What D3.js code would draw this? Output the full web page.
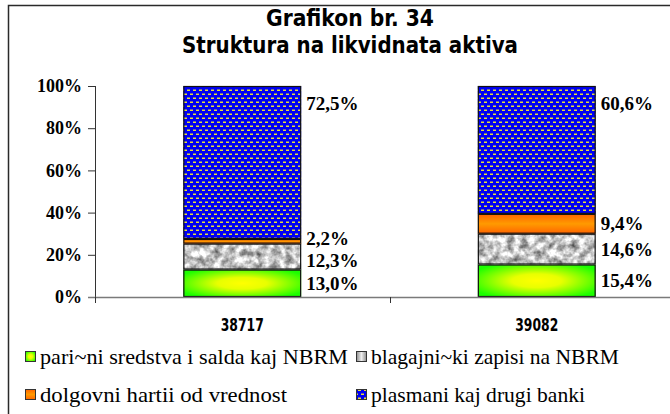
<!DOCTYPE html>
<html>
<head>
<meta charset="utf-8">
<script src="https://cdn.jsdelivr.net/npm/d3@7/dist/d3.min.js"></script>
<style>
  html, body { margin: 0; padding: 0; background: #fff; }
  svg { display: block; }
</style>
</head>
<body>
<script>
// Structure of liquid assets, shares in percent per period
const categories = ["38717", "39082"];
const seriesNames = [
  "pari~ni sredstva i salda kaj NBRM",
  "blagajni~ki zapisi na NBRM",
  "dolgovni hartii od vrednost",
  "plasmani kaj drugi banki"
];
const cashAndNbrm = [13.0, 15.4];
const treasuryBills = [12.3, 14.6];
const debtSecurities = [2.2, 9.4];
const interbankPlacements = [72.5, 60.6];
const yTicks = [0, 20, 40, 60, 80, 100];
const titleLines = ["Grafikon br. 34", "Struktura na likvidnata aktiva"];

const W = 670, H = 414;
const margin = { left: 95, top: 86, plotRight: 684, bottom: 297 };

const keys = ["cash", "bills", "debt", "place"];
const table = categories.map((c, i) => ({
  cat: c,
  cash: cashAndNbrm[i],
  bills: treasuryBills[i],
  debt: debtSecurities[i],
  place: interbankPlacements[i]
}));
const stacked = d3.stack().keys(keys)(table);

const svg = d3.select("body").append("svg")
  .attr("width", W).attr("height", H);

const defs = svg.append("defs");

// green fill: yellow glow in the middle
const gGreen = defs.append("radialGradient").attr("id", "fillGreen")
  .attr("cx", "50%").attr("cy", "50%").attr("r", "60%");
gGreen.append("stop").attr("offset", "0%").attr("stop-color", "#ffff00");
gGreen.append("stop").attr("offset", "35%").attr("stop-color", "#e8ff00");
gGreen.append("stop").attr("offset", "100%").attr("stop-color", "#1cff00");

// orange fill: lighter band through the middle
const gOrange = defs.append("linearGradient").attr("id", "fillOrange")
  .attr("x1", 0).attr("y1", 0).attr("x2", 0).attr("y2", 1);
gOrange.append("stop").attr("offset", "0%").attr("stop-color", "#ff6400");
gOrange.append("stop").attr("offset", "50%").attr("stop-color", "#ff9a00");
gOrange.append("stop").attr("offset", "100%").attr("stop-color", "#ff6400");

// gray fill for legend swatch
const gGray = defs.append("linearGradient").attr("id", "fillGray")
  .attr("x1", 0).attr("y1", 0).attr("x2", 1).attr("y2", 0);
gGray.append("stop").attr("offset", "0%").attr("stop-color", "#8c8c8c");
gGray.append("stop").attr("offset", "50%").attr("stop-color", "#eeeeee");
gGray.append("stop").attr("offset", "100%").attr("stop-color", "#8c8c8c");

// granite-like texture
const fGran = defs.append("filter").attr("id", "granite")
  .attr("x", 0).attr("y", 0).attr("width", 1).attr("height", 1)
  .attr("color-interpolation-filters", "sRGB");
fGran.append("feTurbulence").attr("type", "fractalNoise")
  .attr("baseFrequency", 0.14).attr("numOctaves", 3).attr("seed", 7).attr("result", "n");
fGran.append("feColorMatrix").attr("in", "n").attr("type", "matrix")
  .attr("values", "1.15 0 0 0 0.2  1.15 0 0 0 0.2  1.15 0 0 0 0.2  0 0 0 0 1")
  .attr("result", "g");
fGran.append("feComposite").attr("in", "g").attr("in2", "SourceGraphic").attr("operator", "in");

// blue with staggered yellow dashes
const pBlue = defs.append("pattern").attr("id", "fillBlue")
  .attr("patternUnits", "userSpaceOnUse").attr("width", 6).attr("height", 8);
pBlue.append("rect").attr("width", 6).attr("height", 8).attr("fill", "#0000f4");
pBlue.append("rect").attr("x", 1).attr("y", 1.5).attr("width", 3).attr("height", 1.5).attr("fill", "#e6de3a");
pBlue.append("rect").attr("x", 4).attr("y", 5.5).attr("width", 3).attr("height", 1.5).attr("fill", "#e6de3a");
pBlue.append("rect").attr("x", -2).attr("y", 5.5).attr("width", 3).attr("height", 1.5).attr("fill", "#e6de3a");

const fills = {
  cash: { fill: "url(#fillGreen)" },
  bills: { fill: "#c8c8c8", filter: "url(#granite)" },
  debt: { fill: "url(#fillOrange)" },
  place: { fill: "url(#fillBlue)" }
};
const legendFills = {
  cash: "url(#fillGreen)",
  bills: "url(#fillGray)",
  debt: "url(#fillOrange)",
  place: "url(#fillBlue)"
};

// chart frame
svg.append("rect")
  .attr("x", 8.5).attr("y", 5.5).attr("width", 720).attr("height", 460)
  .attr("fill", "#fff").attr("stroke", "#2a2a2a").attr("stroke-width", 1.5);

// title
const titleFont = "'DejaVu Sans Condensed', 'Liberation Sans Narrow', 'Arial Narrow', sans-serif";
const serifFont = "'Liberation Serif', 'Times New Roman', 'DejaVu Serif', serif";
svg.selectAll("text.title").data(titleLines).join("text")
  .attr("class", "title")
  .attr("x", 350).attr("y", (d, i) => 26 + i * 27)
  .attr("text-anchor", "middle")
  .attr("font-family", titleFont)
  .attr("font-stretch", "condensed")
  .attr("font-weight", "bold")
  .attr("font-size", 23)
  .attr("textLength", (d, i) => i === 0 ? 168 : 336)
  .attr("lengthAdjust", "spacingAndGlyphs")
  .attr("fill", "#000")
  .text(d => d);

// scales
const x = d3.scaleBand().domain(categories)
  .range([margin.left, margin.plotRight])
  .paddingInner(0.6).paddingOuter(0.3);
const y = d3.scaleLinear().domain([0, 100]).range([margin.bottom, margin.top]);

// y axis
const yAxis = svg.append("g")
  .attr("transform", `translate(${margin.left},0)`)
  .call(d3.axisLeft(y).tickValues(yTicks).tickSize(7).tickPadding(6)
    .tickFormat(d => d + "%"));
yAxis.select(".domain").attr("stroke", "#333").attr("stroke-width", 1)
  .attr("d", `M0.5,${y(100)}V${margin.bottom + 6}`);
yAxis.selectAll(".tick line").attr("stroke", "#333");
yAxis.selectAll(".tick text")
  .attr("font-family", serifFont)
  .attr("font-weight", "bold").attr("font-size", 18).attr("fill", "#000");

// bars
const layer = svg.append("g");
stacked.forEach(s => {
  const st = fills[s.key];
  s.forEach(d => {
    const x0 = x(d.data.cat), bw = x.bandwidth();
    const r = layer.append("rect")
      .attr("x", x0).attr("y", y(d[1]))
      .attr("width", bw).attr("height", y(d[0]) - y(d[1]))
      .attr("fill", st.fill);
    if (st.filter) r.attr("filter", st.filter);
    layer.append("rect")
      .attr("x", x0 + 0.5).attr("y", y(d[1]) + 0.5)
      .attr("width", bw - 1).attr("height", y(d[0]) - y(d[1]) - 1)
      .attr("fill", "none").attr("stroke", "#111").attr("stroke-width", 1.2);
  });
});

// category axis
const xAxisY = margin.bottom;
svg.append("line")
  .attr("x1", margin.left - 7).attr("x2", W + 20)
  .attr("y1", xAxisY + 0.5).attr("y2", xAxisY + 0.5)
  .attr("stroke", "#7a7a7a").attr("stroke-width", 1.6);
const bounds = [margin.left, ...categories.map(c => x(c) + x.bandwidth() + x.step() * 0.3)];
svg.selectAll("line.ctick").data(bounds).join("line")
  .attr("class", "ctick")
  .attr("x1", d => Math.round(d) + 0.5).attr("x2", d => Math.round(d) + 0.5)
  .attr("y1", xAxisY).attr("y2", xAxisY + 6)
  .attr("stroke", "#333");
svg.selectAll("text.cat").data(categories).join("text")
  .attr("class", "cat")
  .attr("x", d => x(d) + x.bandwidth() / 2).attr("y", 331)
  .attr("text-anchor", "middle")
  .attr("font-family", titleFont)
  .attr("font-stretch", "condensed")
  .attr("font-weight", "bold").attr("font-size", 18)
  .attr("textLength", 43)
  .attr("lengthAdjust", "spacingAndGlyphs")
  .text(d => d);

// value labels to the right of each bar
const fmt = v => d3.format(".1f")(v).replace(".", ",") + "%";
categories.forEach((c, ci) => {
  const labs = stacked.map(s => {
    const d = s[ci];
    const top = s.key === "place";
    return {
      v: d[1] - d[0],
      y: top ? y(d[1]) + 17 : (y(d[0]) + y(d[1])) / 2,
      fixed: top
    };
  });
  // spread the lower labels so they do not overlap
  const lower = labs.filter(l => !l.fixed);
  for (let it = 0; it < 20; it++) {
    for (let k = 0; k < lower.length - 1; k++) {
      const a = lower[k], b = lower[k + 1];
      const gap = a.y - b.y;
      if (gap < 22) {
        const push = (22 - gap) / 2;
        a.y += push; b.y -= push;
      }
    }
  }
  const lx = x(c) + x.bandwidth() + 5;
  labs.forEach(l => {
    svg.append("text")
      .attr("x", lx).attr("y", l.y)
      .attr("dy", "0.35em")
      .attr("font-family", serifFont)
      .attr("font-weight", "bold").attr("font-size", 19)
      .attr("fill", "#000")
      .text(fmt(l.v));
  });
});

// legend, two columns
const legendCols = [25, 356];
const legendRows = [357, 395];
const legendWidths = [308, 248, 247, 214];
keys.forEach((k, i) => {
  const lx = legendCols[i % 2], ly = legendRows[Math.floor(i / 2)];
  svg.append("rect")
    .attr("x", lx + 0.5).attr("y", ly - 5.5)
    .attr("width", 10).attr("height", 10)
    .attr("fill", legendFills[k]).attr("stroke", "#333").attr("stroke-width", 1);
  svg.append("text")
    .attr("x", lx + 15).attr("y", ly + 7)
    .attr("font-family", serifFont)
    .attr("font-size", 22)
    .attr("textLength", legendWidths[i])
    .attr("lengthAdjust", "spacingAndGlyphs")
    .attr("fill", "#000")
    .text(seriesNames[i]);
});
</script>
</body>
</html>
